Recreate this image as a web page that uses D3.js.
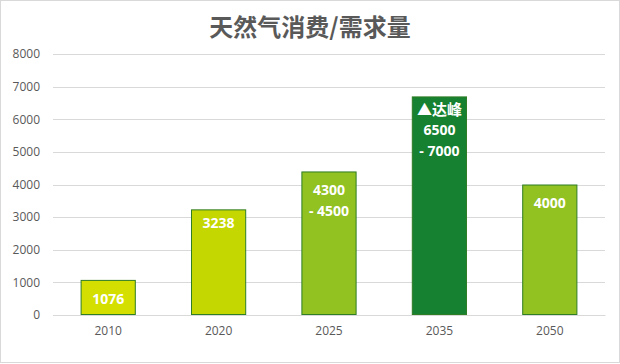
<!DOCTYPE html>
<html><head><meta charset="utf-8">
<script src="https://cdn.jsdelivr.net/npm/d3@7"></script>
<style>html,body{margin:0;padding:0;background:#fff;}svg{display:block;}</style>
</head><body>
<svg id="c" width="620" height="364"></svg>
<script>
const title = "天然气消费/需求量";
const categories = ["2010", "2020", "2025", "2035", "2050"];
const values = [1076, 3238, 4400, 6700, 4000];
const labelLines = [["1076"], ["3238"], ["4300", "- 4500"], ["▲达峰", "6500", "- 7000"], ["4000"]];
const barColors = ["#d4df00", "#c4d700", "#92c122", "#168130", "#92c122"];
const yTicks = [0, 1000, 2000, 3000, 4000, 5000, 6000, 7000, 8000];

const svg = d3.select("#c");
const W = 620, H = 364;
const m = {left: 53, right: 15, top: 54, bottom: 49};

svg.append("rect").attr("x", 0.5).attr("y", 0.5).attr("width", W - 1).attr("height", H - 2)
  .attr("fill", "#fff").attr("stroke", "#d9d9d9");

svg.append("text").attr("x", 310).attr("y", 36).attr("text-anchor", "middle")
  .attr("font-family", "'Noto Sans CJK SC', sans-serif").attr("font-weight", 700)
  .attr("font-size", 24).attr("fill", "#595959").text(title);

const x = d3.scaleBand().domain(categories).range([m.left, W - m.right]).paddingInner(0.5).paddingOuter(0.25);
const y = d3.scaleLinear().domain([0, 8000]).range([H - m.bottom, m.top]);

const grid = svg.append("g");
grid.selectAll("line").data(yTicks).join("line")
  .attr("x1", m.left).attr("x2", W - m.right)
  .attr("y1", d => Math.round(y(d)) + 0.5).attr("y2", d => Math.round(y(d)) + 0.5)
  .attr("stroke", "#d9d9d9").attr("stroke-width", 1);

const yAxis = svg.append("g").attr("transform", `translate(${m.left},0)`)
  .call(d3.axisLeft(y).tickValues(yTicks).tickFormat(d3.format("d")).tickSize(0).tickPadding(13));
yAxis.select(".domain").remove();
yAxis.selectAll("text").attr("font-family", "'Open Sans', sans-serif").attr("font-size", 12).attr("fill", "#595959");

svg.selectAll("rect.bar").data(values).join("rect").attr("class", "bar")
  .attr("x", (d, i) => x(categories[i]) + 0.5)
  .attr("y", d => y(d) + 0.5)
  .attr("width", x.bandwidth() - 1)
  .attr("height", d => y(0) - y(d) - 1)
  .attr("fill", (d, i) => barColors[i])
  .attr("stroke", "#2f7d24").attr("stroke-width", 1);

const xAxis = svg.append("g").attr("transform", `translate(0,${y(0)})`)
  .call(d3.axisBottom(x).tickSize(0).tickPadding(11));
xAxis.select(".domain").attr("stroke", "#d9d9d9");
xAxis.selectAll("text").attr("font-family", "'Open Sans', sans-serif").attr("font-size", 12).attr("fill", "#595959");

const lbl = svg.append("g");
values.forEach((v, i) => {
  const cx = x(categories[i]) + x.bandwidth() / 2;
  const top = y(v);
  const lines = labelLines[i];
  const off = lines.length === 3 ? 13 : (i === 1 ? 14 : 19);
  lines.forEach((t, j) => {
    const cjk = /[\u4e00-\u9fff]/.test(t);
    lbl.append("text").attr("x", cx).attr("y", top + off + j * 21)
      .attr("dy", "0.35em").attr("text-anchor", "middle")
      .attr("font-family", "'Open Sans', 'Noto Sans CJK SC', sans-serif")
      .attr("font-weight", 700).attr("font-size", cjk ? 15 : 14).attr("fill", "#fff").text(t);
  });
});
</script>
</body></html>
